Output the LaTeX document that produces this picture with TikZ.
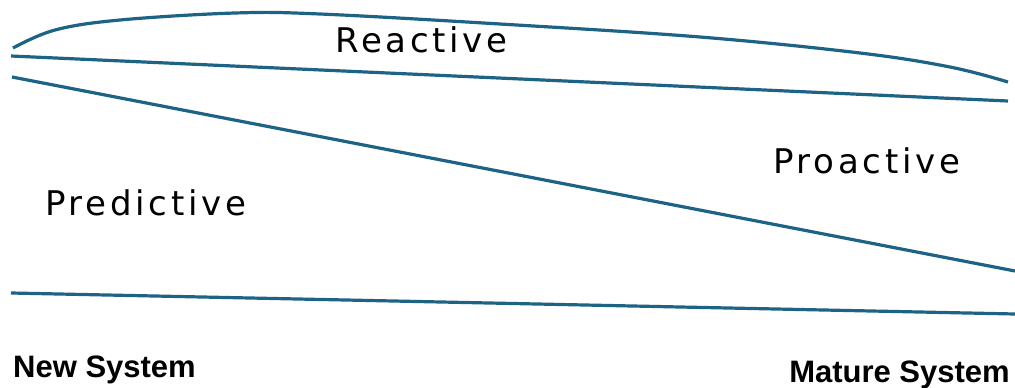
\documentclass[tikz,border=0pt]{standalone}
\usepackage{fontspec}
\setmainfont{Liberation Sans}
\newfontfamily\handfont[LetterSpace=11]{DejaVu Sans}
\definecolor{lineblue}{RGB}{28,99,134}
\begin{document}
\begin{tikzpicture}[x=1pt,y=-1pt,
  band/.style={draw=lineblue,line width=3.2pt},
  zone/.style={font=\handfont\fontsize{34}{38}\selectfont,inner sep=0pt,anchor=base west},
  stage/.style={font=\bfseries\fontsize{31}{34}\selectfont,inner sep=0pt}]
\useasboundingbox (0,0) rectangle (1015,388);
% boundaries between the maintenance regimes
\draw[band] plot[smooth,tension=0.6] coordinates {(13,48) (55,30) (120,20) (235,13) (320,14) (500,24) (700,37) (860,53) (950,67) (1008,82)};
\coordinate (l2a) at (11,56);  \coordinate (l2b) at (1008,101);
\coordinate (l3a) at (12,77);  \coordinate (l3b) at (1015,271);
\coordinate (l4a) at (11,293); \coordinate (l4b) at (1015,314);
\draw[band] (l2a) -- (l2b);
\draw[band] (l3a) -- (l3b);
\draw[band] (l4a) -- (l4b);
% region labels
\node[zone] (reactive) at (335,52) {Reactive};
\node[zone] (proactive) at (773,173) {Proactive};
\node[zone] (predictive) at (45,215) {Predictive};
% axis end labels
\node[stage,anchor=base west] (new) at (13,377) {New System};
\node[stage,anchor=base east] (mature) at (1010,382) {Mature System};
\end{tikzpicture}
\end{document}
